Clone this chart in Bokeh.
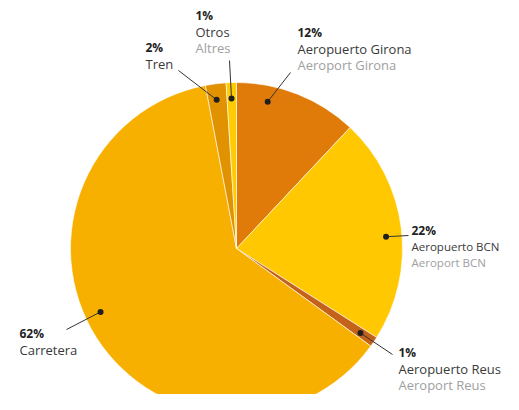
import math
from bokeh.plotting import figure
from bokeh.models import Range1d
from bokeh.core.properties import value
from bokeh.embed import file_html
from bokeh.resources import INLINE

# ---- data ----
categories_es = ["Aeropuerto Girona", "Aeropuerto BCN", "Aeropuerto Reus", "Carretera", "Tren", "Otros"]
categories_ca = ["Aeroport Girona", "Aeroport BCN", "Aeroport Reus", "", "", "Altres"]
shares = [12, 22, 1, 62, 2, 1]
pct_labels = ["12%", "22%", "1%", "62%", "2%", "1%"]

# ---- style / layout ----
colors = ["#E07B0A", "#FFC800", "#C4621A", "#F8B000", "#E09200", "#FFCB05"]
W, H = 503, 394
CX, CY_SCREEN, R = 236, 248, 166
def sy(v):
    return H - v
CY = sy(CY_SCREEN)
dot_angles = [12, 85.5, 124.3, 245, 352.4, 358.1]    # clockwise from top, degrees
dot_r = 150
line_ends = [(290, 72), (408, 235), (392, 354), (66, 329), (178, 70), (229, 60)]
text_pos = [(297, 32), (411, 230), (398, 352), (19, 333), (145, 47), (195, 15)]
name_sizes = ["13px", "11.5px", "13px", "13px", "13px", "13px"]
STEP = 16

p = figure(width=W, height=H, output_backend="svg", toolbar_location=None,
           x_range=Range1d(0, W), y_range=Range1d(0, H),
           x_axis_location=None, y_axis_location=None, min_border=0)
p.outline_line_color = None
p.xgrid.grid_line_color = None
p.ygrid.grid_line_color = None
p.background_fill_color = "white"

total = sum(shares)
cum = 0.0
starts, ends = [], []
for s in shares:
    a0 = cum / total * 2 * math.pi
    cum += s
    a1 = cum / total * 2 * math.pi
    starts.append(math.pi / 2 - a0)
    ends.append(math.pi / 2 - a1)

p.wedge(x=[CX] * len(shares), y=[CY] * len(shares), radius=R,
        start_angle=starts, end_angle=ends, direction="clock",
        fill_color=colors, line_color="white", line_width=0.6)

dx, dy = [], []
for a in dot_angles:
    t = math.radians(a)
    dx.append(CX + dot_r * math.sin(t))
    dy.append(CY + dot_r * math.cos(t))

p.segment(x0=dx, y0=dy, x1=[e[0] for e in line_ends], y1=[sy(e[1]) for e in line_ends],
          line_color="#333333", line_width=1)
p.scatter(x=dx, y=dy, size=6, fill_color="#1f1f1f", line_color=None)

font = value("Open Sans")
for i in range(len(shares)):
    tx, ty = text_pos[i]
    p.text(x=[tx], y=[sy(ty)], text=[pct_labels[i]], text_font=font, text_font_size="12px",
           text_font_style="bold", text_color="#222222", text_baseline="middle", text_align="left")
    p.text(x=[tx], y=[sy(ty + STEP)], text=[categories_es[i]], text_font=font, text_font_size=name_sizes[i],
           text_color="#3a3a3a", text_baseline="middle", text_align="left")
    if categories_ca[i]:
        p.text(x=[tx], y=[sy(ty + 2 * STEP)], text=[categories_ca[i]], text_font=font,
               text_font_size=name_sizes[i], text_color="#a0a0a0", text_baseline="middle", text_align="left")

open("out.html", "w").write(file_html(p, INLINE))
